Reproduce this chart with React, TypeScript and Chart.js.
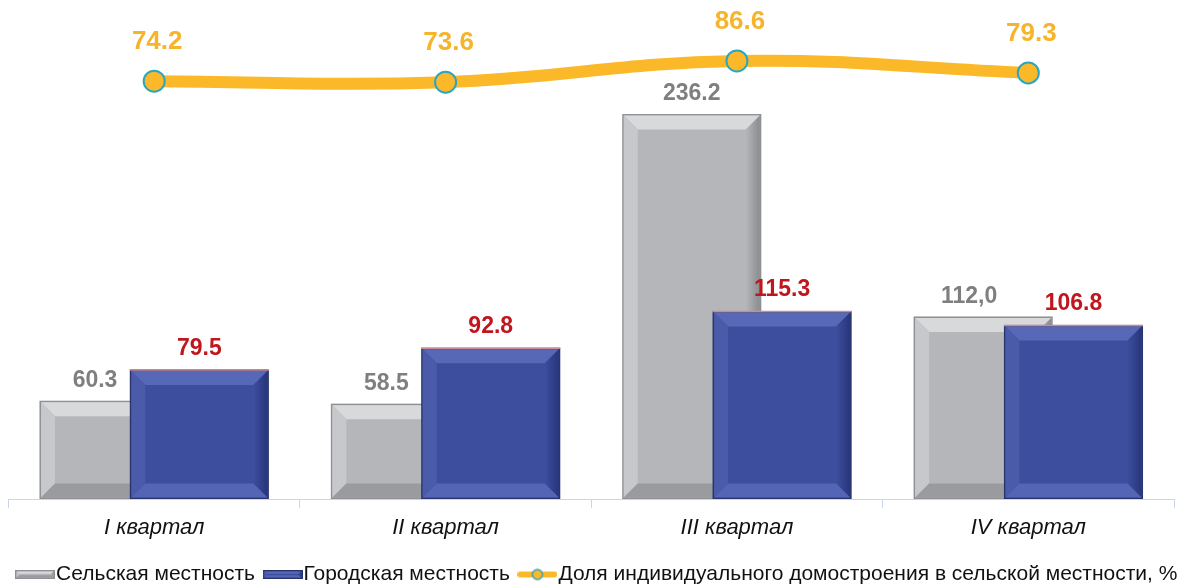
import { useEffect, useRef } from "react";
import { Chart, registerables } from "chart.js";

Chart.register(...registerables);

const categories = ["I квартал", "II квартал", "III квартал", "IV квартал"];
const ruralValues = [60.3, 58.5, 236.2, 112.0];
const urbanValues = [79.5, 92.8, 115.3, 106.8];
const shareValues = [74.2, 73.6, 86.6, 79.3];
const ruralLabels = ["60.3", "58.5", "236.2", "112,0"];
const urbanLabels = ["79.5", "92.8", "115.3", "106.8"];
const shareLabels = ["74.2", "73.6", "86.6", "79.3"];
const seriesNames = [
  "Сельская местность",
  "Городская местность",
  "Доля индивидуального домостроения в сельской местности, %",
];

const FONT = "'Liberation Sans', Arial, sans-serif";
const CANVAS_W = 1210;
const CANVAS_H = 595;
const CANVAS_SHIFT = -4;
const PLOT_RIGHT = 1178;

const GREY = {
  face: "#B4B6B9",
  top: "#D7D9DB",
  left: "#C6C8CB",
  right: "#8A8C8F",
  bottom: "#999B9E",
  outline: "#8E9093",
};
const BLUE = {
  face: "#3D4E9F",
  top: "#5768B7",
  left: "#4A5BAA",
  right: "#28357A",
  bottom: "#5465B5",
  outline: "#2A346C",
};
const LINE_COLOR = "#FBB829";
const POINT_BORDER = "#2AA6C2";

function drawBevel(ctx, L, T, R, B, pal, bwMax) {
  const w = R - L;
  const h = B - T;
  if (w <= 0 || h <= 0) return;
  const bw = Math.min(bwMax, w / 4, h / 4);
  ctx.save();
  ctx.fillStyle = pal.outline;
  ctx.fillRect(L, T, w, h);
  const l = L + 1.5, t = T + 1.5, r = R - 1.5, b = B - 1.5;
  const poly = (pts, color) => {
    ctx.beginPath();
    ctx.moveTo(pts[0][0], pts[0][1]);
    for (let i = 1; i < pts.length; i++) ctx.lineTo(pts[i][0], pts[i][1]);
    ctx.closePath();
    ctx.fillStyle = color;
    ctx.fill();
  };
  ctx.fillStyle = pal.face;
  ctx.fillRect(l, t, r - l, b - t);
  poly([[l, t], [r, t], [r - bw, t + bw], [l + bw, t + bw]], pal.top);
  poly([[l, t], [l + bw, t + bw], [l + bw, b - bw], [l, b]], pal.left);
  const rg = ctx.createLinearGradient(r - bw, 0, r, 0);
  rg.addColorStop(0, pal.face);
  rg.addColorStop(1, pal.right);
  poly([[r, t], [r, b], [r - bw, b - bw], [r - bw, t + bw]], rg);
  poly([[l, b], [r, b], [r - bw, b - bw], [l + bw, b - bw]], pal.bottom);
  ctx.restore();
}

function makeBarIcon(pal) {
  const c = document.createElement("canvas");
  c.width = 40;
  c.height = 9;
  const ctx = c.getContext("2d");
  drawBevel(ctx, 0, 0, 40, 9, pal, 2.5);
  return c;
}

function makeLineIcon() {
  const c = document.createElement("canvas");
  c.width = 40;
  c.height = 14;
  const ctx = c.getContext("2d");
  ctx.strokeStyle = LINE_COLOR;
  ctx.lineWidth = 6;
  ctx.lineCap = "round";
  ctx.beginPath();
  ctx.moveTo(3, 7);
  ctx.lineTo(37, 7);
  ctx.stroke();
  ctx.beginPath();
  ctx.arc(20, 7, 5, 0, Math.PI * 2);
  ctx.fillStyle = LINE_COLOR;
  ctx.fill();
  ctx.lineWidth = 1.5;
  ctx.strokeStyle = POINT_BORDER;
  ctx.stroke();
  return c;
}

const barBevelPlugin = {
  id: "barBevel",
  beforeDatasetDraw(chart, args) {
    const ds = chart.data.datasets[args.index];
    if (ds.type === "bar") return false;
    if (ds.type === "line") {
      const ctx = chart.ctx;
      const pals = [GREY, BLUE];
      [0, 1].forEach((di) => {
        const meta = chart.getDatasetMeta(di);
        meta.data.forEach((el) => {
          const p = el.getProps(["x", "y", "base", "width"], true);
          drawBevel(ctx, p.x - p.width / 2, p.y, p.x + p.width / 2, p.base, pals[di], 14);
          if (di === 1) {
            ctx.save();
            ctx.strokeStyle = "#C98C98";
            ctx.lineWidth = 1.5;
            ctx.beginPath();
            ctx.moveTo(p.x - p.width / 2, p.y + 0.5);
            ctx.lineTo(p.x + p.width / 2, p.y + 0.5);
            ctx.stroke();
            ctx.restore();
          }
        });
      });
    }
    return true;
  },
};

const valueLabelPlugin = {
  id: "valueLabels",
  afterDatasetsDraw(chart) {
    const ctx = chart.ctx;
    ctx.save();
    ctx.textAlign = "center";
    ctx.textBaseline = "middle";
    const grey = chart.getDatasetMeta(0).data;
    const blue = chart.getDatasetMeta(1).data;
    const line = chart.getDatasetMeta(2).data;
    ctx.font = `bold 23px ${FONT}`;
    ctx.fillStyle = "#7F7F7F";
    grey.forEach((el, i) => {
      const dx = el.y < blue[i].y - 40 ? 0 : -14;
      ctx.fillText(ruralLabels[i], el.x + dx, el.y - 20);
    });
    ctx.fillStyle = "#C0161D";
    blue.forEach((el, i) => {
      ctx.fillText(urbanLabels[i], el.x, el.y - 21);
    });
    ctx.font = `bold 26px ${FONT}`;
    ctx.fillStyle = "#F7B42A";
    line.forEach((el, i) => {
      ctx.fillText(shareLabels[i], el.x + 3, el.y - 39);
    });
    ctx.restore();
  },
};

export default function App() {
  const canvasRef = useRef(null);

  useEffect(() => {
    const icons = [makeBarIcon(GREY), makeBarIcon(BLUE), makeLineIcon()];
    const chart = new Chart(canvasRef.current, {
      type: "bar",
      data: {
        labels: categories,
        datasets: [
          {
            type: "bar",
            label: seriesNames[0],
            data: ruralValues,
            backgroundColor: GREY.face,
            yAxisID: "y",
            categoryPercentage: 0.62,
            barPercentage: 1.54,
            order: 1,
          },
          {
            type: "bar",
            label: seriesNames[1],
            data: urbanValues,
            backgroundColor: BLUE.face,
            yAxisID: "y",
            categoryPercentage: 0.62,
            barPercentage: 1.54,
            order: 2,
          },
          {
            type: "line",
            label: seriesNames[2],
            data: shareValues,
            yAxisID: "y1",
            borderColor: LINE_COLOR,
            backgroundColor: LINE_COLOR,
            borderWidth: 12,
            tension: 0.4,
            pointRadius: 10.5,
            pointBackgroundColor: LINE_COLOR,
            pointBorderColor: POINT_BORDER,
            pointBorderWidth: 2,
            clip: false,
            order: 0,
          },
        ],
      },
      options: {
        animation: false,
        responsive: true,
        maintainAspectRatio: false,
        layout: { padding: { left: 0, right: 0, top: 20, bottom: 0 } },
        scales: {
          x: {
            offset: true,
            grid: {
              display: true,
              drawOnChartArea: false,
              drawTicks: true,
              tickLength: 9,
              color: "#C9D6EA",
              offset: true,
            },
            border: { display: true, color: "#C9D6EA", width: 1 },
            ticks: {
              padding: 7,
              color: "#111111",
              font: { family: FONT, size: 22, style: "italic" },
            },
            afterFit(scale) {
              scale.height = 48;
              scale.paddingLeft = 0;
              scale.paddingRight = 0;
            },
          },
          y: {
            display: true,
            position: "left",
            min: 0,
            max: 293.9,
            grid: { display: false },
            border: { display: false },
            ticks: { display: false },
            afterFit(scale) {
              scale.width = 4;
            },
          },
          y1: {
            display: true,
            position: "right",
            min: -181,
            max: 111.6,
            grid: { display: false },
            border: { display: false },
            ticks: { display: false },
            afterFit(scale) {
              scale.width = CANVAS_W - PLOT_RIGHT;
            },
          },
        },
        plugins: {
          tooltip: { enabled: false },
          legend: {
            display: true,
            position: "bottom",
            labels: {
              usePointStyle: true,
              pointStyleWidth: 21,
              boxHeight: 14,
              padding: 17,
              color: "#111111",
              font: { family: FONT, size: 21 },
              sort: (a, b) => a.datasetIndex - b.datasetIndex,
              generateLabels(ch) {
                const items = Chart.defaults.plugins.legend.labels.generateLabels(ch);
                return items.map((it) => ({ ...it, pointStyle: icons[it.datasetIndex] }));
              },
            },
          },
        },
      },
      plugins: [barBevelPlugin, valueLabelPlugin],
    });
    return () => chart.destroy();
  }, []);

  return (
    <div style={{ position: "fixed", left: 0, top: 0, width: 1179, height: 585, overflow: "hidden", background: "#fff" }}>
      <div style={{ position: "absolute", left: CANVAS_SHIFT, top: 0, width: CANVAS_W, height: CANVAS_H }}>
        <canvas ref={canvasRef} />
      </div>
    </div>
  );
}
